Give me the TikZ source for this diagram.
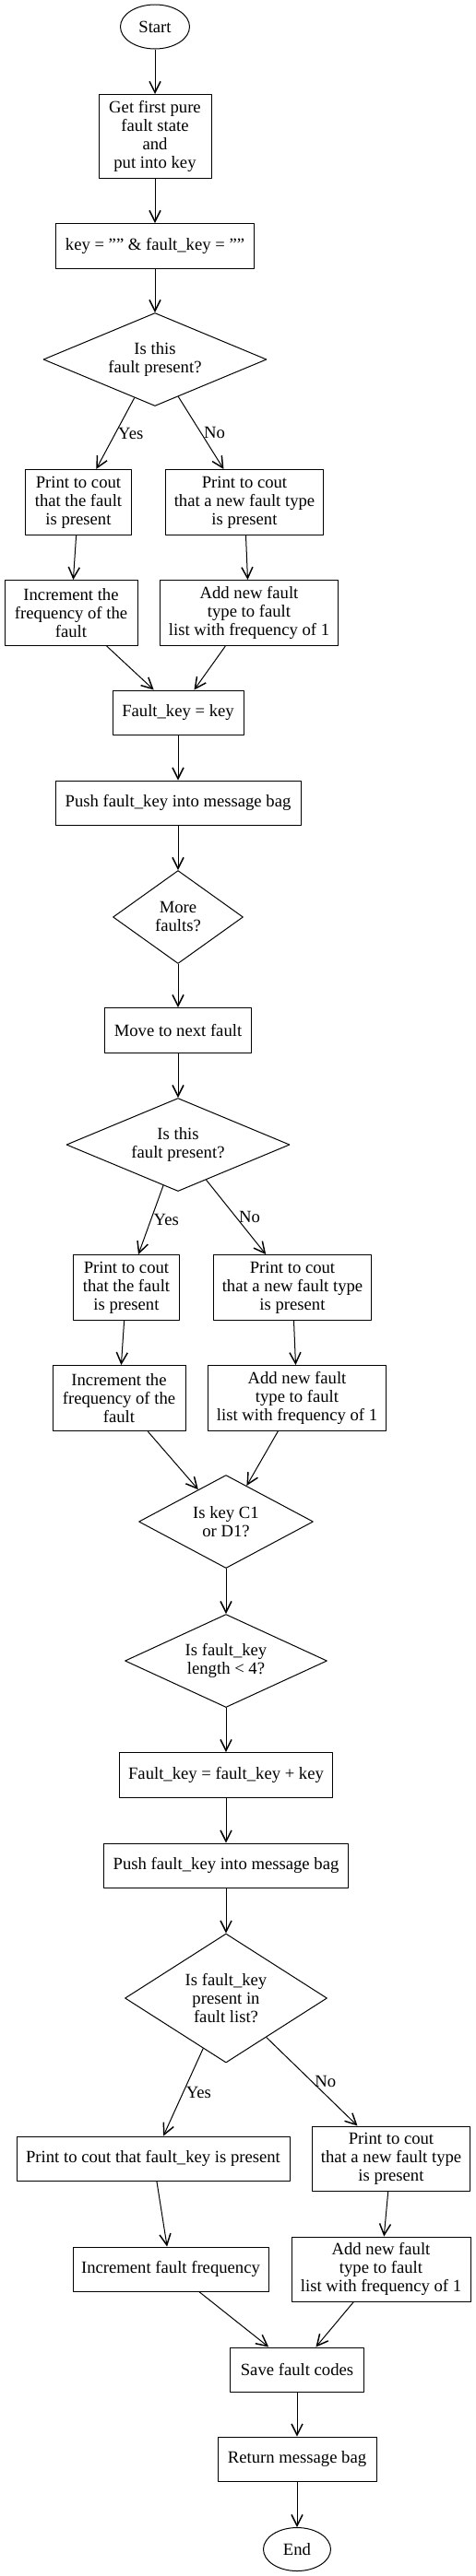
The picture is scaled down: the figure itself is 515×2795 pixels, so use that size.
\documentclass[tikz,border=0pt]{standalone}
\usepackage{fontspec}
\setmainfont{Liberation Serif}
\usepackage{tikz}
\usetikzlibrary{arrows.meta}
\usetikzlibrary{shapes.geometric}
\tikzset{box/.style={draw,rectangle,align=center,inner sep=2pt}}
\tikzset{dec/.style={draw,diamond,aspect=2,align=center,inner sep=0pt}}
\tikzset{term/.style={draw,ellipse,inner sep=0pt}}
\tikzset{l/.style={right,inner sep=2pt}}

\begin{document}
\begin{tikzpicture}[x=0.75pt,y=-0.75pt,line width=0.75pt,line join=round,
    >={Straight Barb[length=9pt,width=9pt,line width=1.1pt]}]
  \useasboundingbox (0,0) rectangle (515,2795);
  \begin{scope}[font=\fontsize{14}{15}\selectfont]
    \node[term, minimum width=56.25pt, minimum height=36pt] (start) at (168,29) {Start};
    \node[box, minimum width=91.5pt, minimum height=68.25pt] (first) at (168,148)
      {Get first pure\\fault state\\and\\put into key}
      edge [<-] (start);
    \node[box, minimum width=161.25pt, minimum height=36.75pt] (init) at (168,267)
      {key = "" \& fault\_key = ""}
      edge [<-] (first);
    \node[dec, minimum width=181.5pt, minimum height=75.75pt] (qa) at (168,390)
      {Is this\\fault present?}
      edge [<-] (init);
    \node[box, minimum width=86.25pt, minimum height=53.25pt] (yesa) at (85,545)
      {Print to cout\\that the fault\\is present}
      edge [<-] node [l] {Yes} (qa);
    \node[box, minimum width=128.25pt, minimum height=53.25pt] (noa) at (265,545)
      {Print to cout\\that a new fault type\\is present}
      edge [<-] node [l] {No} (qa);
    \node[box, minimum width=108pt, minimum height=53.25pt] (inca) at (77,665)
      {Increment the\\frequency of the\\fault}
      edge [<-] (yesa);
    \node[box, minimum width=144.75pt, minimum height=53.25pt] (adda) at (270,665)
      {Add new fault\\type to fault\\list with frequency of 1}
      edge [<-] (noa);
    \node[box, minimum width=106.5pt, minimum height=36pt] (fka) at (193,773)
      {Fault\_key = key}
      edge [<-] (inca)
      edge [<-] (adda);
    \node[box, minimum width=199.5pt, minimum height=36pt] (pusha) at (193,871)
      {Push fault\_key into message bag}
      edge [<-] (fka);
    \node[dec, minimum width=105.75pt, minimum height=75.75pt] (more) at (193,995)
      {More\\faults?}
      edge [<-] (pusha);
    \node[box, minimum width=119.25pt, minimum height=36.75pt] (next) at (193,1118)
      {Move to next fault}
      edge [<-] (more);
    \node[dec, minimum width=181.5pt, minimum height=75.75pt] (qb) at (193,1242)
      {Is this\\fault present?}
      edge [<-] (next);
    \node[box, minimum width=86.25pt, minimum height=53.25pt] (yesb) at (137,1397)
      {Print to cout\\that the fault\\is present}
      edge [<-] node [l] {Yes} (qb);
    \node[box, minimum width=128.25pt, minimum height=53.25pt] (nob) at (317,1397)
      {Print to cout\\that a new fault type\\is present}
      edge [<-] node [l] {No} (qb);
    \node[box, minimum width=108pt, minimum height=53.25pt] (incb) at (129,1517)
      {Increment the\\frequency of the\\fault}
      edge [<-] (yesb);
    \node[box, minimum width=144.75pt, minimum height=53.25pt] (addb) at (322,1517)
      {Add new fault\\type to fault\\list with frequency of 1}
      edge [<-] (nob);
    \node[dec, minimum width=141.75pt, minimum height=75.75pt] (qkey) at (245,1651)
      {Is key C1\\or D1?}
      edge [<-] (incb)
      edge [<-] (addb);
    \node[dec, minimum width=164.25pt, minimum height=75.75pt] (qlen) at (245,1802)
      {Is fault\_key\\length < 4?}
      edge [<-] (qkey);
    \node[box, minimum width=173.25pt, minimum height=36.75pt] (fkb) at (245,1926)
      {Fault\_key = fault\_key + key}
      edge [<-] (qlen);
    \node[box, minimum width=198.75pt, minimum height=36pt] (pushb) at (245,2024)
      {Push fault\_key into message bag}
      edge [<-] (fkb);
    \node[dec, minimum width=164.25pt, minimum height=105pt] (qc) at (245,2168)
      {Is fault\_key\\present in\\fault list?}
      edge [<-] (pushb);
    \node[box, minimum width=222pt, minimum height=36pt] (yesc) at (166,2342)
      {Print to cout that fault\_key is present}
      edge [<-] node [l] {Yes} (qc);
    \node[box, minimum width=128.25pt, minimum height=52.5pt] (noc) at (424,2342)
      {Print to cout\\that a new fault type\\is present}
      edge [<-] node [l] {No} (qc);
    \node[box, minimum width=159pt, minimum height=36pt] (incc) at (185,2462)
      {Increment fault frequency}
      edge [<-] (yesc);
    \node[box, minimum width=145.5pt, minimum height=52.5pt] (addc) at (413,2462)
      {Add new fault\\type to fault\\list with frequency of 1}
      edge [<-] (noc);
    \node[box, minimum width=108.75pt, minimum height=36pt] (save) at (322,2571)
      {Save fault codes}
      edge [<-] (incc)
      edge [<-] (addc);
    \node[box, minimum width=129pt, minimum height=36pt] (ret) at (322,2668)
      {Return message bag}
      edge [<-] (save);
    \node[term, minimum width=54.75pt, minimum height=35.25pt] (stop) at (322,2766) {End}
      edge [<-] (ret);
  \end{scope}
\end{tikzpicture}
\end{document}
